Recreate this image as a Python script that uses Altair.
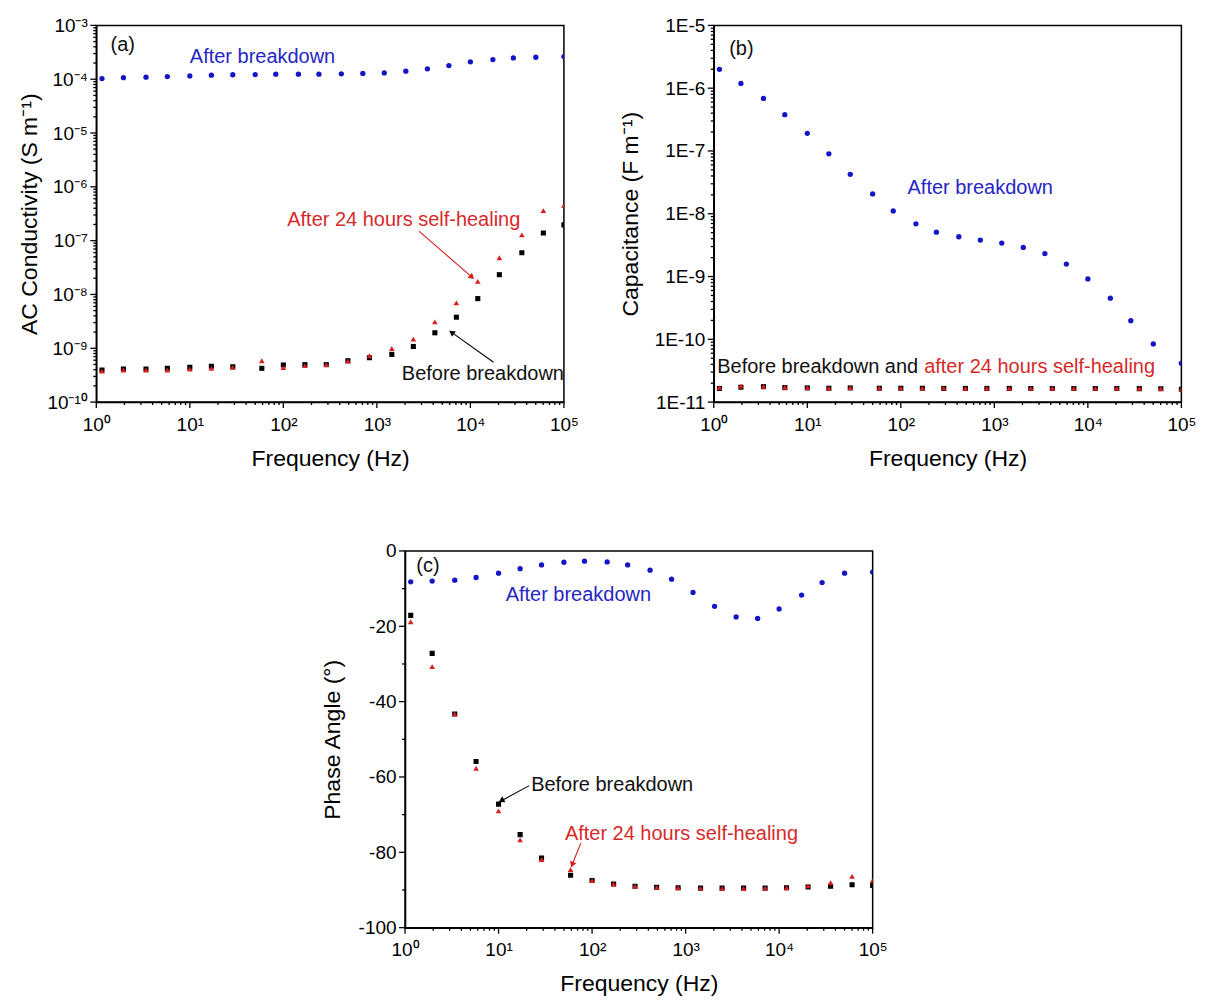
import math
import altair as alt
import pandas as pd

# ---------------- data ----------------
FREQ_AFTER = [1.15, 1.95, 3.4, 5.75, 10, 17, 28.8, 50, 83, 145, 240, 417, 708, 1200,
              2040, 3470, 5890, 10000, 17400, 28800, 50100, 100000]
FREQ_OTHER = [1.15, 1.95, 3.4, 5.75, 10, 17, 28.8, 58.9, 100, 170, 288, 490, 832, 1445,
              2455, 4170, 7080, 12000, 20400, 35500, 60300, 100000]

A_AFTER = [1.03e-4, 1.07e-4, 1.09e-4, 1.12e-4, 1.15e-4, 1.19e-4, 1.21e-4, 1.22e-4, 1.24e-4,
           1.24e-4, 1.24e-4, 1.26e-4, 1.28e-4, 1.31e-4, 1.41e-4, 1.56e-4, 1.79e-4, 2.10e-4,
           2.32e-4, 2.49e-4, 2.56e-4, 2.63e-4]
A_BEFORE = [3.95e-10, 4.12e-10, 4.12e-10, 4.24e-10, 4.42e-10, 4.62e-10, 4.55e-10, 4.24e-10,
            4.89e-10, 4.96e-10, 4.96e-10, 5.87e-10, 6.68e-10, 7.70e-10, 1.08e-9, 1.94e-9,
            3.78e-9, 8.37e-9, 2.33e-8, 5.94e-8, 1.39e-7, 1.96e-7]
A_HEALED = [3.79e-10, 3.95e-10, 3.95e-10, 3.95e-10, 4.12e-10, 4.24e-10, 4.42e-10, 5.87e-10,
            4.36e-10, 4.75e-10, 4.96e-10, 5.79e-10, 7.27e-10, 9.93e-10, 1.48e-9, 3.10e-9,
            6.97e-9, 1.75e-8, 4.81e-8, 1.28e-7, 3.61e-7, 4.53e-7]

B_AFTER = [2.0e-6, 1.19e-6, 6.87e-7, 3.78e-7, 1.91e-7, 9.0e-8, 4.24e-8, 2.07e-8, 1.11e-8,
           6.9e-9, 5.09e-9, 4.3e-9, 3.8e-9, 3.41e-9, 2.91e-9, 2.31e-9, 1.58e-9, 9.16e-10,
           4.52e-10, 1.98e-10, 8.43e-11, 4.16e-11]
B_BEFORE = [1.65e-11, 1.72e-11, 1.76e-11, 1.70e-11, 1.68e-11, 1.66e-11, 1.68e-11, 1.66e-11,
            1.66e-11, 1.66e-11, 1.65e-11, 1.65e-11, 1.65e-11, 1.65e-11, 1.65e-11, 1.65e-11,
            1.65e-11, 1.65e-11, 1.65e-11, 1.64e-11, 1.63e-11, 1.60e-11]
B_HEALED = [1.70e-11, 1.80e-11, 1.78e-11, 1.72e-11, 1.70e-11, 1.68e-11, 1.70e-11, 1.68e-11,
            1.67e-11, 1.67e-11, 1.67e-11, 1.66e-11, 1.66e-11, 1.66e-11, 1.66e-11, 1.66e-11,
            1.66e-11, 1.66e-11, 1.66e-11, 1.66e-11, 1.64e-11, 1.60e-11]

C_AFTER = [-8.2, -8.0, -7.75, -7.05, -5.9, -4.7, -3.7, -3.0, -2.7, -2.9, -3.7, -5.1, -7.5,
           -11.0, -14.7, -17.5, -17.9, -15.4, -11.7, -8.4, -5.9, -5.6]
C_BEFORE = [-17.1, -27.2, -43.3, -55.9, -67.2, -75.3, -81.5, -86.1, -87.5, -88.4, -89.0,
            -89.3, -89.4, -89.5, -89.5, -89.5, -89.5, -89.4, -89.2, -89.0, -88.6, -88.8]
C_HEALED = [-18.8, -30.7, -43.3, -57.7, -69.0, -76.7, -81.9, -84.6, -87.5, -88.4, -89.0,
            -89.3, -89.4, -89.5, -89.6, -89.6, -89.5, -89.4, -88.9, -88.1, -86.4, -87.5]

# ---------------- ticks and labels ----------------
X_MAJOR = [1, 10, 100, 1000, 10000, 100000]
X_LABELS = ["10⁰", "10¹", "10²", "10³", "10⁴", "10⁵"]
X_MINOR = [m * 10 ** d for d in range(0, 5) for m in range(2, 10)]

YA_MAJOR = [1e-10, 1e-9, 1e-8, 1e-7, 1e-6, 1e-5, 1e-4, 1e-3]
YA_LABELS = ["10⁻¹⁰", "10⁻⁹", "10⁻⁸", "10⁻⁷", "10⁻⁶", "10⁻⁵", "10⁻⁴", "10⁻³"]
YA_MINOR = [m * 10.0 ** d for d in range(-10, -3) for m in range(2, 10)]

YB_MAJOR = [1e-11, 1e-10, 1e-9, 1e-8, 1e-7, 1e-6, 1e-5]
YB_LABELS = ["1E-11", "1E-10", "1E-9", "1E-8", "1E-7", "1E-6", "1E-5"]
YB_MINOR = [m * 10.0 ** d for d in range(-11, -5) for m in range(2, 10)]

YC_MAJOR = [0, -20, -40, -60, -80, -100]
YC_LABELS = ["0", "-20", "-40", "-60", "-80", "-100"]
YC_MINOR = [-10, -30, -50, -70, -90]

# ---------------- annotations (data coordinates) ----------------
A_TEXTS = [("(a)", 1.42, 4.3e-4, "black"),
           ("After breakdown", 10, 2.6e-4, "blue"),
           ("After 24 hours self-healing", 110, 2.4e-7, "red"),
           ("Before breakdown", 1850, 3.3e-10, "black")]
A_ARROWS = [(2820, 1.5e-7, 10400, 2.1e-8, "red"),
            (17700, 5.5e-10, 6300, 1.97e-9, "black")]

B_TEXTS = [("(b)", 1.46, 4.27e-6, "black"),
           ("After breakdown", 118, 2.54e-8, "blue")]
B_SPLIT_TEXT = ("Before breakdown and", "after 24 hours self-healing", 165, 3.6e-11)

C_TEXTS = [("(c)", 1.32, -4.1, "black"),
           ("After breakdown", 11.9, -11.7, "blue"),
           ("Before breakdown", 22.3, -62.1, "black"),
           ("After 24 hours self-healing", 51.2, -75.2, "red")]
C_ARROWS = [(21.3, -62.3, 10.7, -66.3, "black"),
            (76, -77.5, 61.2, -83.3, "red")]

# ---------------- styling ----------------
FONT = "Liberation Sans"
BLUE_PT = "#1414c8"
BLUE_TX = "#2626c4"
RED_PT = "#d81e1e"
RED_TX = "#d62a2a"
COLORS = {"black": "#111111", "blue": BLUE_TX, "red": RED_TX}
W, H = 468, 377
TICK_FS = 19
TITLE_FS = 23
ANN_FS = 20
MAJOR_LEN, MINOR_LEN = 6, 3


def label_expr(major, labels):
    return (f"indexof({major}, datum.value) >= 0 ? "
            f"{labels}[indexof({major}, datum.value)] : ''")


def make_axis(major, labels, title, orient, title_pad, label_pad):
    return alt.Axis(
        values=major, labelExpr=label_expr(major, labels), title=title, orient=orient,
        ticks=False, tickSize=0, labelFlush=False, labelOverlap=False,
        titlePadding=title_pad, labelPadding=label_pad, grid=False,
        domainColor="black", domainWidth=1.5, labelColor="black", titleColor="black",
        labelFont=FONT, titleFont=FONT, titleFontWeight="normal",
        labelFontSize=TICK_FS, titleFontSize=TITLE_FS)


def to_px(v, dom, size, log):
    if log:
        return (math.log10(v) - math.log10(dom[0])) / (math.log10(dom[1]) - math.log10(dom[0])) * size
    return (v - dom[0]) / (dom[1] - dom[0]) * size


def arrow_angle(x1, y1, x2, y2, xdom, ydom, ylog):
    px = to_px(x2, xdom, W, True) - to_px(x1, xdom, W, True)
    py = -(to_px(y2, ydom, H, ylog) - to_px(y1, ydom, H, ylog))
    return math.degrees(math.atan2(px, -py)) % 360


def panel(freq_after, after, freq_other, before, healed, ydom, ylog, ymaj, ylab, ymin,
          ytitle, ytitle_pad, texts, arrows, split_text=None):
    xdom = [1, 100000]
    xs = alt.Scale(type="log", domain=xdom, nice=False)
    ys = alt.Scale(type="log" if ylog else "linear", domain=ydom, nice=False, zero=False)
    xaxis = make_axis(X_MAJOR, X_LABELS, "Frequency (Hz)", "bottom", 13, 7 + MAJOR_LEN)
    yaxis = make_axis(ymaj, ylab, ytitle, "left", ytitle_pad, 3 + MAJOR_LEN)

    d_after = pd.DataFrame({"f": freq_after, "v": after})
    d_before = pd.DataFrame({"f": freq_other, "v": before})
    d_healed = pd.DataFrame({"f": freq_other, "v": healed})

    base_after = alt.Chart(d_after).mark_point(
        shape="circle", filled=True, size=28, color=BLUE_PT, opacity=1, clip=True
    ).encode(x=alt.X("f:Q", scale=xs, axis=xaxis), y=alt.Y("v:Q", scale=ys, axis=yaxis))

    def enc(ch):
        return ch.encode(x=alt.X("f:Q", scale=xs), y=alt.Y("v:Q", scale=ys))

    l_before = enc(alt.Chart(d_before).mark_point(
        shape="square", filled=True, size=26, color="#000000", opacity=1, clip=True))
    l_healed = enc(alt.Chart(d_healed).mark_point(
        shape="triangle-up", filled=True, size=32, color=RED_PT, opacity=1, clip=True))

    layers = [base_after]

    # axis tick marks (outward), drawn from the tick-value lists through the scales
    for vals, ln in ((X_MAJOR, MAJOR_LEN), (X_MINOR, MINOR_LEN)):
        layers.append(alt.Chart(pd.DataFrame({"f": vals})).mark_rule(
            color="black", strokeWidth=1.3).encode(
            x=alt.X("f:Q", scale=xs), y=alt.value(H), y2=alt.value(H + ln)))
    for vals, ln in ((ymaj, MAJOR_LEN), (ymin, MINOR_LEN)):
        layers.append(alt.Chart(pd.DataFrame({"v": vals})).mark_rule(
            color="black", strokeWidth=1.3).encode(
            y=alt.Y("v:Q", scale=ys), x=alt.value(0), x2=alt.value(-ln)))

    layers += [l_before, l_healed]

    for t, x, y, c in texts:
        layers.append(enc(alt.Chart(pd.DataFrame({"f": [x], "v": [y], "t": [t]})).mark_text(
            align="left", baseline="middle", font=FONT, fontSize=ANN_FS, color=COLORS[c]
        )).encode(text="t:N"))

    if split_text is not None:
        t1, t2, x, y = split_text
        df = pd.DataFrame({"f": [x], "v": [y], "t1": [t1], "t2": [t2]})
        layers.append(enc(alt.Chart(df).mark_text(
            align="right", baseline="middle", dx=-3, font=FONT, fontSize=ANN_FS,
            color=COLORS["black"])).encode(text="t1:N"))
        layers.append(enc(alt.Chart(df).mark_text(
            align="left", baseline="middle", dx=3, font=FONT, fontSize=ANN_FS,
            color=COLORS["red"])).encode(text="t2:N"))

    for x1, y1, x2, y2, c in arrows:
        col = RED_PT if c == "red" else "#000000"
        df = pd.DataFrame({"f": [x1], "v": [y1], "f2": [x2], "v2": [y2]})
        layers.append(enc(alt.Chart(df).mark_rule(color=col, strokeWidth=1.1)).encode(
            x2="f2:Q", y2="v2:Q"))
        ang = arrow_angle(x1, y1, x2, y2, xdom, ydom, ylog)
        layers.append(enc(alt.Chart(pd.DataFrame({"f": [x2], "v": [y2]})).mark_point(
            shape="triangle-up", filled=True, size=45, color=col, opacity=1, angle=ang)))

    return alt.layer(*layers).properties(width=W, height=H)


pa = panel(FREQ_AFTER, A_AFTER, FREQ_OTHER, A_BEFORE, A_HEALED, [1e-10, 1e-3], True,
           YA_MAJOR, YA_LABELS, YA_MINOR, "AC Conductivity (S m⁻¹)", 5, A_TEXTS, A_ARROWS)
pb = panel(FREQ_AFTER, B_AFTER, FREQ_OTHER, B_BEFORE, B_HEALED, [1e-11, 1e-5], True,
           YB_MAJOR, YB_LABELS, YB_MINOR, "Capacitance (F m⁻¹)", 12, B_TEXTS, [],
           B_SPLIT_TEXT)
pc = panel(FREQ_AFTER, C_AFTER, FREQ_OTHER, C_BEFORE, C_HEALED, [-100, 0], False,
           YC_MAJOR, YC_LABELS, YC_MINOR, "Phase Angle (°)", 14, C_TEXTS, C_ARROWS)

top = alt.hconcat(pa, pb, spacing=38)
chart = alt.vconcat(top, pc, spacing=70, center=True).properties(
    padding={"left": 10, "top": 7, "right": 0, "bottom": 0},
    background="white",
).configure_view(stroke="black", strokeWidth=1.5)

chart.save("out.html", embed_options={"renderer": "svg", "actions": False})
